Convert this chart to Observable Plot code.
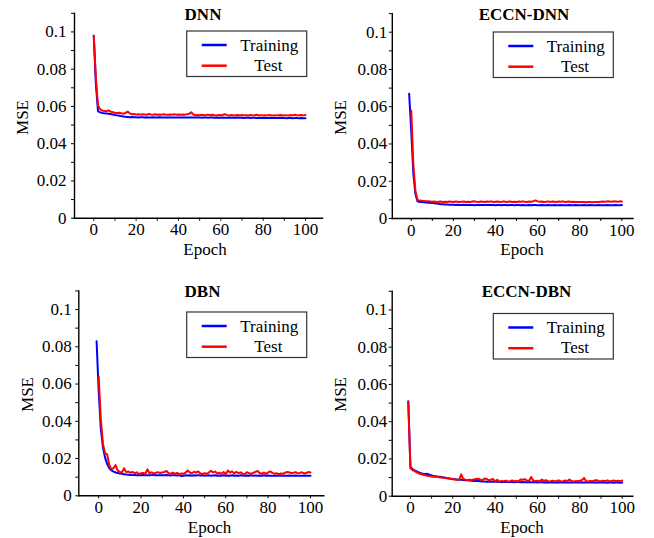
<!DOCTYPE html>
<html><head><meta charset="utf-8">
<script src="https://cdn.jsdelivr.net/npm/d3@7"></script>
<script src="https://cdn.jsdelivr.net/npm/@observablehq/plot@0.6"></script>
<style>
body{margin:0;background:#fff;}
#wrap{position:relative;width:654px;height:538px;overflow:hidden;font-family:"Liberation Serif","Times New Roman",serif;background:#fff;}
</style></head><body><div id="wrap"></div>
<script>
// ---- data ----
const panelTitles = ["DNN", "ECCN-DNN", "DBN", "ECCN-DBN"];
const seriesNames = ["Training", "Test"];
const epochTicks = [0, 10, 20, 30, 40, 50, 60, 70, 80, 90, 100];
const epochLabels = [0, 20, 40, 60, 80, 100];
const mseTicks = [0, 0.01, 0.02, 0.03, 0.04, 0.05, 0.06, 0.07, 0.08, 0.09, 0.1, 0.11];
const mseLabels = [0, 0.02, 0.04, 0.06, 0.08, 0.1];
const xAxisLabel = "Epoch";
const yAxisLabel = "MSE";

// first epoch of each series (Training, Test) per panel
const trainStart = [0, -1, -1, -1];
const testStart = [0, 0, 0, -1];

const dnnTrain = [0.098,0.072,0.0575,0.0568,0.0565,0.0563,0.0562,0.0561,0.0559,0.0557,
0.0554,0.0552,0.0550,0.0548,0.0546,0.0544,0.0543,0.0542,0.0543,0.0542,
0.0542,0.0541,0.0542,0.0542,0.0541,0.0542,0.0541,0.0541,0.0542,0.0541,
0.0541,0.0542,0.0541,0.0541,0.0540,0.0541,0.0541,0.0540,0.0541,0.0541,
0.0540,0.0541,0.0540,0.0540,0.0541,0.0540,0.0540,0.0541,0.0540,0.0540,
0.0540,0.0539,0.0540,0.0540,0.0539,0.0540,0.0540,0.0539,0.0540,0.0539,
0.0539,0.0540,0.0539,0.0539,0.0540,0.0539,0.0539,0.0539,0.0540,0.0539,
0.0539,0.0538,0.0539,0.0539,0.0538,0.0539,0.0539,0.0538,0.0539,0.0538,
0.0538,0.0539,0.0538,0.0538,0.0539,0.0538,0.0538,0.0538,0.0539,0.0538,
0.0538,0.0537,0.0538,0.0538,0.0537,0.0538,0.0538,0.0537,0.0538,0.0537,0.0537];

const dnnTest = [0.098,0.075,0.0605,0.0585,0.0578,0.0575,0.0574,0.0579,0.0572,0.0569,
0.0566,0.0565,0.0566,0.0563,0.0561,0.0565,0.0572,0.0563,0.0558,0.0559,
0.0557,0.0558,0.0556,0.0558,0.0557,0.0556,0.0559,0.0557,0.0556,0.0558,
0.0555,0.0557,0.0556,0.0558,0.0556,0.0555,0.0557,0.0556,0.0558,0.0556,
0.0557,0.0555,0.0557,0.0556,0.0558,0.0560,0.0569,0.0557,0.0553,0.0554,
0.0553,0.0555,0.0553,0.0554,0.0556,0.0553,0.0555,0.0553,0.0552,0.0554,
0.0553,0.0555,0.0558,0.0553,0.0552,0.0554,0.0551,0.0553,0.0554,0.0552,
0.0554,0.0552,0.0553,0.0551,0.0554,0.0552,0.0553,0.0555,0.0552,0.0553,
0.0551,0.0553,0.0552,0.0554,0.0552,0.0551,0.0553,0.0552,0.0554,0.0551,
0.0553,0.0552,0.0551,0.0554,0.0552,0.0555,0.0552,0.0553,0.0554,0.0552,0.0554];

const eccnDnnTrain = [0.067,0.047,0.024,0.013,0.0092,0.0089,0.0088,0.0087,0.0086,0.0085,
0.0084,0.0083,0.0082,0.0080,0.0079,0.0077,0.0076,0.0075,0.0075,0.0074,
0.0074,0.0074,0.0073,0.0074,0.0073,0.0073,0.0074,0.0073,0.0073,0.0072,
0.0072,0.0071,0.0072,0.0072,0.0073,0.0072,0.0072,0.0073,0.0072,0.0072,
0.0072,0.0071,0.0072,0.0072,0.0071,0.0072,0.0072,0.0071,0.0072,0.0072,
0.0071,0.0072,0.0072,0.0071,0.0072,0.0071,0.0071,0.0072,0.0071,0.0072,
0.0072,0.0071,0.0071,0.0072,0.0071,0.0071,0.0072,0.0071,0.0071,0.0072,
0.0071,0.0071,0.0072,0.0071,0.0071,0.0071,0.0072,0.0071,0.0071,0.0072,
0.0071,0.0071,0.0071,0.0072,0.0071,0.0071,0.0072,0.0071,0.0071,0.0071,
0.0072,0.0071,0.0071,0.0071,0.0072,0.0071,0.0071,0.0071,0.0072,0.0071,
0.0071,0.0072];

const eccnDnnTest = [0.058,0.029,0.0145,0.0100,0.0096,0.0095,0.0094,0.0093,0.0092,0.0091,
0.0090,0.0091,0.0089,0.0090,0.0091,0.0089,0.0090,0.0089,0.0091,0.0090,
0.0089,0.0091,0.0090,0.0089,0.0090,0.0091,0.0089,0.0090,0.0089,0.0091,
0.0092,0.0090,0.0089,0.0091,0.0090,0.0089,0.0091,0.0090,0.0092,0.0089,
0.0090,0.0091,0.0089,0.0090,0.0092,0.0089,0.0090,0.0091,0.0089,0.0090,
0.0089,0.0091,0.0090,0.0092,0.0090,0.0089,0.0091,0.0090,0.0093,0.0097,
0.0092,0.0090,0.0091,0.0089,0.0090,0.0092,0.0089,0.0091,0.0090,0.0089,
0.0091,0.0090,0.0092,0.0089,0.0090,0.0091,0.0089,0.0090,0.0088,0.0088,
0.0089,0.0088,0.0088,0.0087,0.0088,0.0088,0.0087,0.0088,0.0088,0.0089,
0.0090,0.0091,0.0090,0.0092,0.0091,0.0090,0.0092,0.0091,0.0090,0.0092,0.0091];

const dbnTrain = [0.083,0.056,0.036,0.026,0.0205,0.017,0.0148,0.0136,0.0130,0.0125,
0.0122,0.0120,0.0118,0.0116,0.0114,0.0113,0.0112,0.0111,0.0112,0.0110,
0.0111,0.0110,0.0112,0.0110,0.0111,0.0110,0.0111,0.0112,0.0110,0.0111,
0.0110,0.0111,0.0110,0.0112,0.0110,0.0109,0.0111,0.0110,0.0109,0.0111,
0.0106,0.0108,0.0110,0.0109,0.0110,0.0108,0.0110,0.0109,0.0111,0.0109,
0.0110,0.0108,0.0109,0.0110,0.0108,0.0109,0.0110,0.0108,0.0109,0.0108,
0.0110,0.0108,0.0109,0.0108,0.0110,0.0108,0.0109,0.0108,0.0110,0.0109,
0.0108,0.0109,0.0108,0.0110,0.0108,0.0109,0.0108,0.0109,0.0108,0.0110,
0.0108,0.0109,0.0108,0.0107,0.0109,0.0108,0.0107,0.0109,0.0108,0.0107,
0.0108,0.0109,0.0107,0.0108,0.0109,0.0107,0.0108,0.0107,0.0109,0.0108,
0.0107,0.0108];

const dbnTest = [0.064,0.041,0.028,0.0228,0.0222,0.0165,0.0142,0.0148,0.0165,0.0135,
0.0128,0.0126,0.0148,0.0127,0.0130,0.0124,0.0128,0.0122,0.0126,0.0116,
0.0121,0.0123,0.0117,0.0142,0.0121,0.0126,0.0119,0.0124,0.0127,0.0122,
0.0125,0.0128,0.0133,0.0121,0.0118,0.0125,0.0118,0.0123,0.0116,0.0120,
0.0118,0.0124,0.0136,0.0126,0.0121,0.0129,0.0124,0.0131,0.0120,0.0117,
0.0121,0.0118,0.0125,0.0134,0.0126,0.0130,0.0119,0.0124,0.0118,0.0128,
0.0116,0.0136,0.0125,0.0131,0.0120,0.0129,0.0122,0.0126,0.0119,0.0117,
0.0127,0.0121,0.0118,0.0124,0.0128,0.0133,0.0122,0.0119,0.0125,0.0118,
0.0126,0.0131,0.0123,0.0119,0.0121,0.0116,0.0120,0.0118,0.0124,0.0128,
0.0126,0.0121,0.0124,0.0127,0.0121,0.0123,0.0126,0.0120,0.0122,0.0128,0.0125];

const eccnDbnTrain = [0.051,0.0158,0.0145,0.0138,0.0133,0.0128,0.0124,0.0121,0.0119,0.0120,
0.0115,0.0111,0.0108,0.0107,0.0105,0.0104,0.0102,0.0100,0.0098,0.0096,
0.0094,0.0092,0.0091,0.0090,0.0089,0.0088,0.0087,0.0086,0.0085,0.0084,
0.0083,0.0082,0.0081,0.0081,0.0080,0.0079,0.0079,0.0078,0.0078,0.0078,
0.0077,0.0077,0.0077,0.0076,0.0077,0.0076,0.0076,0.0077,0.0076,0.0076,
0.0075,0.0076,0.0076,0.0075,0.0076,0.0075,0.0075,0.0076,0.0075,0.0075,
0.0075,0.0074,0.0075,0.0075,0.0074,0.0075,0.0074,0.0075,0.0074,0.0074,
0.0075,0.0074,0.0074,0.0075,0.0074,0.0074,0.0073,0.0074,0.0074,0.0073,
0.0074,0.0074,0.0073,0.0074,0.0073,0.0074,0.0073,0.0073,0.0074,0.0073,
0.0073,0.0074,0.0073,0.0073,0.0072,0.0073,0.0073,0.0072,0.0073,0.0073,
0.0072,0.0073];

const eccnDbnTest = [0.0505,0.0150,0.0140,0.0135,0.0128,0.0122,0.0119,0.0115,0.0112,0.0110,
0.0108,0.0106,0.0105,0.0104,0.0103,0.0101,0.0100,0.0098,0.0097,0.0095,
0.0093,0.0091,0.0090,0.0088,0.0087,0.0117,0.0092,0.0088,0.0086,0.0089,
0.0087,0.0090,0.0092,0.0094,0.0089,0.0086,0.0095,0.0093,0.0084,0.0088,
0.0092,0.0080,0.0088,0.0078,0.0082,0.0080,0.0083,0.0079,0.0081,0.0084,
0.0080,0.0082,0.0079,0.0090,0.0088,0.0091,0.0085,0.0082,0.0103,0.0084,
0.0080,0.0083,0.0079,0.0089,0.0082,0.0086,0.0081,0.0079,0.0083,0.0080,
0.0082,0.0085,0.0079,0.0081,0.0084,0.0080,0.0089,0.0082,0.0079,0.0081,
0.0080,0.0083,0.0086,0.0098,0.0080,0.0079,0.0082,0.0080,0.0084,0.0086,
0.0082,0.0080,0.0083,0.0081,0.0085,0.0079,0.0082,0.0084,0.0080,0.0083,
0.0081,0.0084];

const trainSeries = [dnnTrain, eccnDnnTrain, dbnTrain, eccnDbnTrain];
const testSeries = [dnnTest, eccnDnnTest, dbnTest, eccnDbnTest];

// ---- layout (pixels) ----
const W = 327, H = 269;
const layout = [
  {left: 0,   top: 0,   mL: 74,   mR: 5,    mT: 12.8, mB: 51.3, xd: [-9.1, 108],   pad: 5,
   title: [203, 19.5], yl: [28.3, 117.5], xl: [205, 255], lg: [186.7, 31]},
  {left: 327, top: 0,   mL: 64.8, mR: 21.5, mT: 13.1, mB: 51,   xd: [-9.0, 105.3], pad: 2,
   title: [524, 19.5], yl: [345.7, 117.5], xl: [522, 255], lg: [493.3, 32]},
  {left: 0,   top: 269, mL: 78.3, mR: 3.7,  mT: 21.4, mB: 42.7, xd: [-9.4, 106.3], pad: 4,
   title: [202.5, 296.5], yl: [33.3, 394.5], xl: [209.5, 532.5], lg: [186.7, 312]},
  {left: 327, top: 269, mL: 64.7, mR: 21.7, mT: 21.8, mB: 42.3, xd: [-8.6, 105],   pad: 2,
   title: [526.5, 296.8], yl: [345.7, 394.5], xl: [522, 532.5], lg: [493.3, 313.5]}
];
const BLUE = "#0000ff", RED = "#ff0000";
const FONT = "'Liberation Serif', 'Times New Roman', serif";

const wrap = document.getElementById("wrap");

layout.forEach((L, k) => {
  const train = trainSeries[k].map((v, i) => ({epoch: trainStart[k] + i, mse: v}));
  const test = testSeries[k].map((v, i) => ({epoch: testStart[k] + i, mse: v}));
  const svg = Plot.plot({
    width: W, height: H,
    marginLeft: L.mL, marginRight: L.mR, marginTop: L.mT, marginBottom: L.mB,
    style: {position: "absolute", left: L.left + "px", top: L.top + "px",
            background: "transparent", fontFamily: FONT, fontSize: "17px", color: "#000", overflow: "visible"},
    x: {domain: L.xd},
    y: {domain: [0, 0.11]},
    marks: [
      Plot.axisX({ticks: epochTicks, tickSize: 3, tickPadding: 2, label: null,
                  tickFormat: d => epochLabels.includes(d) ? String(d) : ""}),
      Plot.axisY({ticks: mseTicks, tickSize: 3, tickPadding: L.pad, label: null,
                  tickFormat: d => mseLabels.includes(d) ? String(d) : ""}),
      Plot.frame({anchor: "left", stroke: "#000", strokeWidth: 1.4}),
      Plot.frame({anchor: "bottom", stroke: "#000", strokeWidth: 1.4}),
      Plot.line(train, {x: "epoch", y: "mse", stroke: BLUE, strokeWidth: 2}),
      Plot.line(test, {x: "epoch", y: "mse", stroke: RED, strokeWidth: 2})
    ]
  });
  wrap.appendChild(svg);
});

// overlay: titles, axis labels, legends
const ov = d3.select(wrap).append("svg")
  .attr("width", 654).attr("height", 538)
  .style("position", "absolute").style("left", "0px").style("top", "0px")
  .style("font-family", FONT).style("font-size", "17px");

layout.forEach((L, k) => {
  ov.append("text").attr("x", L.title[0]).attr("y", L.title[1])
    .attr("text-anchor", "middle").attr("font-weight", "bold").text(panelTitles[k]);
  ov.append("text").attr("transform", `translate(${L.yl[0]},${L.yl[1]}) rotate(-90)`)
    .attr("text-anchor", "middle").text(yAxisLabel);
  ov.append("text").attr("x", L.xl[0]).attr("y", L.xl[1])
    .attr("text-anchor", "middle").text(xAxisLabel);
  const g = ov.append("g").attr("transform", `translate(${L.lg[0]},${L.lg[1]})`);
  g.append("rect").attr("x", 0).attr("y", 0).attr("width", 120).attr("height", 45.5)
    .attr("fill", "#fff").attr("stroke", "#333").attr("stroke-width", 1.2);
  [BLUE, RED].forEach((c, j) => {
    g.append("line").attr("x1", 15).attr("x2", 40).attr("y1", 14 + j * 20.7).attr("y2", 14 + j * 20.7)
      .attr("stroke", c).attr("stroke-width", 2.5);
  });
  g.append("text").attr("x", 53.5).attr("y", 19.7).text(seriesNames[0]);
  g.append("text").attr("x", 81.7).attr("y", 39.7).attr("text-anchor", "middle").text(seriesNames[1]);
});
</script></body></html>
